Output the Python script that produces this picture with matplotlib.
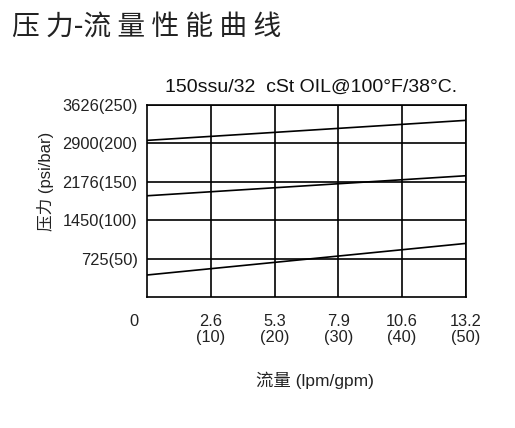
import matplotlib
matplotlib.use("Agg")
import matplotlib.pyplot as plt

# Data
flow_gpm = [0, 50]
curve_high = [204, 230]
curve_mid = [132, 158]
curve_low = [29, 70]

x_ticks = [10, 20, 30, 40, 50]
x_tick_labels = ["2.6\n(10)", "5.3\n(20)", "7.9\n(30)", "10.6\n(40)", "13.2\n(50)"]
y_ticks = [50, 100, 150, 200, 250]
y_tick_labels = ["725(50)", "1450(100)", "2176(150)", "2900(200)", "3626(250)"]

latin = ["Liberation Sans", "DejaVu Sans"]
mixed = ["Liberation Sans", "Noto Sans CJK SC", "DejaVu Sans"]
cjk = ["Noto Sans CJK SC", "Liberation Sans", "DejaVu Sans"]
plt.rcParams['font.family'] = cjk

fig = plt.figure(figsize=(5.15, 4.28), dpi=100)
ax = fig.add_axes([0.286, 0.3054, 0.618, 0.4493])

for ys in (curve_high, curve_mid, curve_low):
    ax.plot(flow_gpm, ys, color="black", lw=1.2, zorder=3)

ax.set_xlim(0, 50)
ax.set_ylim(0, 250)
ax.set_xticks(x_ticks)
ax.set_xticklabels(x_tick_labels, family=latin, fontsize=11.8, color="#222222", linespacing=1.1)
ax.set_yticks(y_ticks)
ax.set_yticklabels(y_tick_labels, family=latin, fontsize=11.8, color="#222222")
ax.tick_params(axis="x", length=0, pad=12)
ax.tick_params(axis="y", length=0, pad=7)
ax.grid(True, color="black", lw=1.2)
for s in ax.spines.values():
    s.set_linewidth(1.2)
    s.set_color("black")

fig.text(134/515, 1-321/428, "0", family=latin, fontsize=11.8, color="#222222", ha="center", va="center")
fig.text(311/515, 1-87/428, "150ssu/32  cSt OIL@100°F/38°C.", family=latin, fontsize=14,
         color="#111111", ha="center", va="center")
fig.text(12/515, 1-27/428, "压 力-流 量 性 能 曲 线", family=cjk, fontsize=20,
         color="#222222", ha="left", va="center")
fig.text(45/515, 1-181/428, "压力 (psi/bar)", family=mixed, fontsize=12, rotation=90,
         color="#222222", ha="center", va="center")
fig.text(315/515, 1-380/428, "流量 (lpm/gpm)", family=mixed, fontsize=12.5,
         color="#222222", ha="center", va="center")

fig.savefig("out.png", dpi=100)
